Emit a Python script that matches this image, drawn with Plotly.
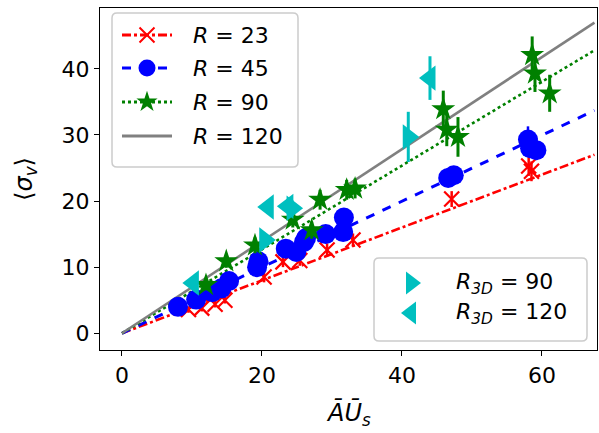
import plotly.graph_objects as go

# ---- data ----
x_r23 = [9.5, 11.4, 13.3, 14.7, 20.3, 23.0, 25.4, 29.3, 33.0, 47.1, 58.1, 58.5]
y_r23 = [3.6, 3.8, 4.4, 5.0, 8.5, 10.8, 11.0, 12.6, 14.1, 20.3, 25.3, 24.5]
e_r23 = [0.5, 0.5, 0.5, 0.5, 0.8, 0.8, 0.8, 1.0, 1.0, 1.2, 1.5, 1.5]

x_r45 = [8.0, 10.6, 12.9, 14.2, 15.3, 19.3, 19.5, 23.4, 24.9, 26.0, 26.3, 29.1, 31.6, 31.7, 46.6, 47.4, 58.0, 58.3, 59.2]
y_r45 = [4.0, 5.1, 6.2, 6.8, 7.9, 10.0, 10.9, 12.8, 12.3, 13.8, 14.4, 15.0, 15.3, 17.5, 23.5, 23.9, 29.3, 28.0, 27.7]
e_r45 = [0.4, 0.4, 0.5, 0.5, 0.5, 0.6, 0.6, 0.7, 0.7, 0.8, 0.8, 0.8, 0.9, 0.9, 1.2, 1.2, 2.0, 1.5, 1.5]

x_r90 = [12.0, 14.9, 19.0, 24.4, 27.1, 28.3, 32.1, 33.3, 45.9, 46.4, 48.0, 58.6, 59.0, 61.1]
y_r90 = [7.3, 10.9, 13.3, 17.2, 15.6, 20.2, 21.7, 21.9, 33.9, 30.8, 29.7, 42.1, 39.3, 36.3]
e_r90 = [0.8, 1.0, 1.2, 1.2, 1.3, 1.5, 1.5, 1.5, 2.8, 2.5, 3.0, 2.8, 2.8, 2.8]

x_3d90 = [20.4, 24.3, 40.9]
y_3d90 = [14.1, 18.9, 29.7]
e_3d90 = [1.0, 1.2, 3.8]

x_3d120 = [10.2, 20.9, 23.7, 44.0]
y_3d120 = [7.6, 19.1, 19.2, 38.6]
e_3d120 = [0.8, 1.0, 1.0, 3.3]

fit_x = [0, 67.5]
fit_end_r23 = 27.0
fit_end_r45 = 33.7
fit_end_r90 = 42.8
fit_end_r120 = 47.0

legend1_labels = ["<i>R</i> = 23", "<i>R</i> = 45", "<i>R</i> = 90", "<i>R</i> = 120"]
legend2_labels = ["<i>R</i><sub><i>3D</i></sub> = 90", "<i>R</i><sub><i>3D</i></sub> = 120"]
x_title = "<i>A\u0304U\u0304</i><sub><i>s</i></sub>"
y_title = "\u27e8<i>σ</i><sub><i>v</i></sub>\u27e9"

RED, BLUE, GREEN, GRAY, CYAN = "#ff0000", "#0000ff", "#008000", "#808080", "#00bfbf"
FONT = "DejaVu Sans"

# plot-area geometry in pixels (for the hand-drawn legends)
L, R_, T, B = 100, 597, 8, 350
def fx(px):
    return (px - L) / (R_ - L)
def fy(py):
    return (B - py) / (B - T)

fig = go.Figure()

# fit lines
for yend, col, dash, w in [(fit_end_r23, RED, "dashdot", 2.6),
                           (fit_end_r45, BLUE, "dash", 3),
                           (fit_end_r90, GREEN, "dot", 2.6),
                           (fit_end_r120, GRAY, "solid", 2.6)]:
    fig.add_trace(go.Scatter(x=fit_x, y=[0, yend], mode="lines",
                             line=dict(color=col, dash=dash, width=w),
                             showlegend=False, hoverinfo="skip"))

# data
fig.add_trace(go.Scatter(x=x_r23, y=y_r23, mode="markers", showlegend=False,
                         marker=dict(symbol="x-thin", size=15, line=dict(color=RED, width=2.2), color=RED),
                         error_y=dict(type="data", array=e_r23, color=RED, thickness=2.5, width=0)))
fig.add_trace(go.Scatter(x=x_r45, y=y_r45, mode="markers", showlegend=False,
                         marker=dict(symbol="circle", size=20, color=BLUE),
                         error_y=dict(type="data", array=e_r45, color=BLUE, thickness=2.5, width=0)))
fig.add_trace(go.Scatter(x=x_r90, y=y_r90, mode="markers", showlegend=False,
                         marker=dict(symbol="star", size=18, color=GREEN),
                         error_y=dict(type="data", array=e_r90, color=GREEN, thickness=3, width=0)))
fig.add_trace(go.Scatter(x=x_3d90, y=y_3d90, mode="markers", showlegend=False,
                         marker=dict(symbol="triangle-right", size=22, color=CYAN),
                         error_y=dict(type="data", array=e_3d90, color=CYAN, thickness=3, width=0)))
fig.add_trace(go.Scatter(x=x_3d120, y=y_3d120, mode="markers", showlegend=False,
                         marker=dict(symbol="triangle-left", size=22, color=CYAN),
                         error_y=dict(type="data", array=e_3d120, color=CYAN, thickness=3, width=0)))

# ---- hand-drawn legends (on an overlay axis spanning the plot area 0..1) ----
def rounded_box(x0, y0, x1, y1, r=5):
    X0, X1 = fx(x0), fx(x1)
    Y0, Y1 = fy(y0), fy(y1)  # Y0 top, Y1 bottom
    rx = r / (R_ - L)
    ry = r / (B - T)
    return (f"M{X0+rx},{Y0} L{X1-rx},{Y0} Q{X1},{Y0} {X1},{Y0-ry} "
            f"L{X1},{Y1+ry} Q{X1},{Y1} {X1-rx},{Y1} L{X0+rx},{Y1} "
            f"Q{X0},{Y1} {X0},{Y1+ry} L{X0},{Y0-ry} Q{X0},{Y0} {X0+rx},{Y0} Z")

shapes = [
    dict(type="path", xref="paper", yref="paper", path=rounded_box(112, 13, 298, 167),
         line=dict(color="#cccccc", width=1.5), fillcolor="white", layer="below"),
    dict(type="path", xref="paper", yref="paper", path=rounded_box(374, 258, 587, 341),
         line=dict(color="#cccccc", width=1.5), fillcolor="white", layer="below"),
]

leg1_y = [35, 68, 102, 136]
leg1_style = [(RED, "dashdot", dict(symbol="x-thin", size=15, line=dict(color=RED, width=2), color=RED)),
              (BLUE, "dash", dict(symbol="circle", size=17, color=BLUE)),
              (GREEN, "dot", dict(symbol="star", size=16, color=GREEN)),
              (GRAY, "solid", None)]
for py, (col, dash, mk) in zip(leg1_y, leg1_style):
    fig.add_trace(go.Scatter(x=[fx(122), fx(172)], y=[fy(py), fy(py)], mode="lines",
                             line=dict(color=col, dash=dash, width=3),
                             xaxis="x2", yaxis="y2", showlegend=False, hoverinfo="skip"))
    if mk:
        fig.add_trace(go.Scatter(x=[fx(147)], y=[fy(py)], mode="markers", marker=mk,
                                 xaxis="x2", yaxis="y2", showlegend=False, hoverinfo="skip"))

leg2_y = [283, 313]
for py, sym in zip(leg2_y, ["triangle-right", "triangle-left"]):
    fig.add_trace(go.Scatter(x=[fx(411)], y=[fy(py)], mode="markers",
                             marker=dict(symbol=sym, size=20, color=CYAN),
                             xaxis="x2", yaxis="y2", showlegend=False, hoverinfo="skip"))

annotations = []
for py, txt in zip(leg1_y, legend1_labels):
    annotations.append(dict(x=fx(191), y=fy(py), xref="paper", yref="paper", text=txt,
                            showarrow=False, xanchor="left", yanchor="middle",
                            font=dict(family=FONT, size=22, color="black")))
for py, txt in zip(leg2_y, legend2_labels):
    annotations.append(dict(x=fx(454), y=fy(py), xref="paper", yref="paper", text=txt,
                            showarrow=False, xanchor="left", yanchor="middle",
                            font=dict(family=FONT, size=22, color="black")))
# x-axis title (placed by hand so the plot area keeps its size)
annotations.append(dict(x=0.5, y=fy(414), xref="paper", yref="paper", text=x_title,
                        showarrow=False, xanchor="center", yanchor="middle",
                        font=dict(family=FONT, size=24, color="black")))

axis_common = dict(showline=True, linecolor="black", linewidth=1.3, mirror=True,
                   ticks="outside", ticklen=5, tickwidth=1.3, tickcolor="black",
                   showgrid=False, zeroline=False, automargin=False,
                   tickfont=dict(family=FONT, size=22, color="black"))

fig.update_layout(
    width=599, height=433,
    margin=dict(l=L, r=599 - R_, t=T, b=433 - B),
    paper_bgcolor="white", plot_bgcolor="rgba(0,0,0,0)",
    font=dict(family=FONT, color="black"),
    showlegend=False,
    xaxis=dict(range=[-3.14, 67.86], tickvals=[0, 20, 40, 60], **axis_common),
    yaxis=dict(range=[-2.53, 49.2], tickvals=[0, 10, 20, 30, 40],
               title=dict(text=y_title, font=dict(size=24, family=FONT), standoff=22),
               **axis_common),
    xaxis2=dict(overlaying="x", range=[0, 1], visible=False, fixedrange=True),
    yaxis2=dict(overlaying="y", range=[0, 1], visible=False, fixedrange=True),
    shapes=shapes,
    annotations=annotations,
)

fig.write_html("out.html")
